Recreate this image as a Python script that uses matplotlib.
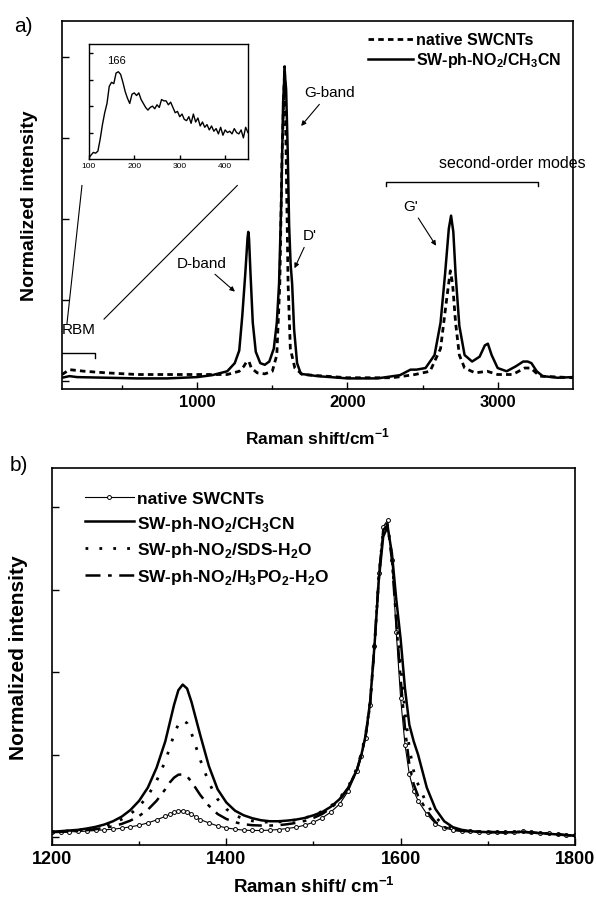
import numpy as np
import matplotlib
matplotlib.use('Agg')
import matplotlib.pyplot as plt
from matplotlib.ticker import MultipleLocator, FixedLocator, NullFormatter

plt.rcParams['font.family'] = ['Liberation Sans', 'DejaVu Sans']
plt.rcParams['mathtext.fontset'] = 'custom'
plt.rcParams['mathtext.rm'] = 'Liberation Sans'
plt.rcParams['mathtext.bf'] = 'Liberation Sans:bold'

# ---- panel a: full spectra ----
shift_a_solid = [100, 150, 200, 400, 600, 800, 1000, 1100, 1200, 1250, 1280, 1300, 1320, 1335,
                 1340, 1345, 1355, 1370, 1390, 1420, 1450, 1480, 1510, 1530, 1545, 1560, 1572,
                 1582, 1592, 1602, 1612, 1622, 1632, 1645, 1665, 1690, 1800, 2000, 2200, 2350,
                 2420, 2460, 2520, 2580, 2620, 2650, 2675, 2690, 2705, 2720, 2745, 2780, 2830,
                 2880, 2915, 2935, 2960, 3000, 3060, 3120, 3170, 3200, 3225, 3260, 3300, 3400, 3500]
int_a_solid = [0.010, 0.015, 0.012, 0.010, 0.008, 0.008, 0.012, 0.018, 0.030, 0.055, 0.094, 0.200,
               0.330, 0.440, 0.460, 0.440, 0.330, 0.180, 0.090, 0.055, 0.050, 0.060, 0.100, 0.180,
               0.300, 0.560, 0.860, 0.955, 0.900, 0.720, 0.480, 0.360, 0.300, 0.160, 0.055, 0.022,
               0.015, 0.008, 0.008, 0.018, 0.035, 0.035, 0.040, 0.080, 0.180, 0.330, 0.470, 0.510,
               0.460, 0.330, 0.170, 0.080, 0.060, 0.075, 0.110, 0.115, 0.080, 0.040, 0.030, 0.045,
               0.060, 0.060, 0.055, 0.030, 0.015, 0.010, 0.012]

shift_a_native = [100, 150, 250, 400, 600, 800, 1000, 1200, 1280, 1310, 1330, 1345, 1360, 1400,
                  1450, 1500, 1530, 1550, 1565, 1582, 1592, 1605, 1620, 1650, 1700, 2000, 2300,
                  2450, 2550, 2620, 2660, 2685, 2700, 2720, 2745, 2780, 2850, 2930, 3000, 3100,
                  3180, 3220, 3280, 3500]
int_a_native = [0.020, 0.035, 0.030, 0.025, 0.020, 0.020, 0.020, 0.020, 0.030, 0.045, 0.060, 0.060,
                0.040, 0.025, 0.022, 0.030, 0.080, 0.300, 0.700, 0.970, 0.700, 0.300, 0.100, 0.040,
                0.020, 0.010, 0.010, 0.020, 0.030, 0.100, 0.250, 0.340, 0.300, 0.180, 0.080, 0.040,
                0.025, 0.030, 0.020, 0.020, 0.040, 0.040, 0.015, 0.010]

# RBM inset
shift_rbm = np.arange(100, 455, 5)
int_rbm = [0.05, 0.15, 0.25, 0.22, 0.30, 0.75, 1.30, 1.75, 2.10, 2.75,
           2.90, 2.85, 3.25, 3.30, 3.20, 2.90, 2.55, 2.30, 2.10, 2.45,
           2.50, 2.40, 2.50, 2.25, 2.10, 1.95, 1.85, 1.95, 2.00, 1.90,
           2.05, 1.95, 2.25, 2.20, 2.20, 2.05, 2.15, 1.95, 1.75, 1.80,
           1.60, 1.70, 1.50, 1.45, 1.60, 1.35, 1.70, 1.40, 1.55, 1.25,
           1.40, 1.20, 1.30, 1.10, 1.25, 1.05, 1.15, 0.95, 1.20, 0.90,
           1.10, 1.00, 1.05, 0.95, 1.15, 1.00, 0.95, 1.10, 0.80, 1.20,
           1.00]

# ---- panel b: D and G region ----
shift_b = [1200, 1210, 1220, 1230, 1240, 1250, 1260, 1270, 1280, 1290, 1300, 1310, 1320, 1330,
           1335, 1340, 1345, 1350, 1355, 1360, 1365,
           1370, 1380, 1390, 1400, 1410, 1420, 1430, 1440, 1450, 1460, 1470, 1480, 1490, 1500,
           1510, 1520, 1530, 1540, 1550,
           1555, 1560, 1565, 1570, 1575, 1580, 1585, 1590, 1595, 1600, 1605, 1610, 1615, 1620,
           1630, 1640, 1650, 1660, 1670, 1680, 1690, 1700, 1710, 1720, 1730, 1740, 1750, 1760,
           1770, 1780, 1790, 1800]
int_b_native = [0.014, 0.015, 0.016, 0.017, 0.018, 0.020, 0.022, 0.024, 0.027, 0.031, 0.036, 0.043, 0.052, 0.063,
                0.069, 0.075, 0.079, 0.080, 0.077, 0.070, 0.061,
                0.053, 0.043, 0.034, 0.028, 0.024, 0.021, 0.020, 0.020, 0.021, 0.023, 0.026, 0.030, 0.036, 0.045,
                0.058, 0.076, 0.100, 0.140, 0.200,
                0.245, 0.300, 0.400, 0.580, 0.800, 0.940, 0.960, 0.840, 0.620, 0.420, 0.280, 0.190, 0.140, 0.110,
                0.070, 0.040, 0.028, 0.021, 0.018, 0.017, 0.016, 0.016, 0.016, 0.015, 0.016, 0.017, 0.015, 0.013,
                0.011, 0.009, 0.007, 0.005]
int_b_ch3cn = [0.016, 0.018, 0.020, 0.022, 0.026, 0.031, 0.038, 0.048, 0.062, 0.082, 0.110, 0.150, 0.210, 0.290,
               0.345, 0.400, 0.445, 0.462, 0.450, 0.410, 0.360,
               0.310, 0.215, 0.145, 0.105, 0.080, 0.066, 0.057, 0.051, 0.048, 0.048, 0.050, 0.053, 0.058, 0.066,
               0.076, 0.092, 0.115, 0.150, 0.205,
               0.250, 0.310, 0.410, 0.580, 0.780, 0.910, 0.940, 0.860, 0.720, 0.600, 0.450, 0.340, 0.290, 0.250,
               0.150, 0.085, 0.048, 0.030, 0.022, 0.018, 0.016, 0.015, 0.015, 0.014, 0.015, 0.016, 0.014, 0.012,
               0.010, 0.008, 0.006, 0.004]
int_b_sds = [0.015, 0.017, 0.019, 0.021, 0.024, 0.028, 0.034, 0.042, 0.054, 0.070, 0.093, 0.125, 0.170, 0.230,
             0.270, 0.310, 0.342, 0.355, 0.345, 0.315, 0.275,
             0.235, 0.165, 0.115, 0.085, 0.066, 0.055, 0.049, 0.046, 0.045, 0.046, 0.048, 0.052, 0.058, 0.066,
             0.078, 0.094, 0.118, 0.153, 0.210,
             0.255, 0.315, 0.405, 0.580, 0.790, 0.930, 0.950, 0.850, 0.670, 0.520, 0.380, 0.270, 0.200, 0.160,
             0.100, 0.060, 0.035, 0.025, 0.020, 0.017, 0.016, 0.015, 0.015, 0.014, 0.015, 0.016, 0.014, 0.012,
             0.010, 0.008, 0.006, 0.004]
int_b_h3po2 = [0.015, 0.016, 0.017, 0.019, 0.021, 0.024, 0.028, 0.033, 0.040, 0.050, 0.064, 0.083, 0.110, 0.145,
               0.165, 0.180, 0.189, 0.190, 0.184, 0.168, 0.148,
               0.128, 0.095, 0.070, 0.055, 0.045, 0.039, 0.036, 0.035, 0.035, 0.036, 0.039, 0.043, 0.049, 0.058,
               0.070, 0.088, 0.112, 0.148, 0.205,
               0.250, 0.310, 0.400, 0.580, 0.790, 0.930, 0.945, 0.840, 0.650, 0.480, 0.330, 0.220, 0.160, 0.125,
               0.080, 0.045, 0.030, 0.022, 0.019, 0.017, 0.016, 0.015, 0.015, 0.014, 0.015, 0.016, 0.014, 0.012,
               0.010, 0.008, 0.006, 0.004]

lbl_native = 'native SWCNTs'
lbl_ch3cn = r'SW-ph-NO$_\mathbf{2}$/CH$_\mathbf{3}$CN'
lbl_sds = r'SW-ph-NO$_\mathbf{2}$/SDS-H$_\mathbf{2}$O'
lbl_h3po2 = r'SW-ph-NO$_\mathbf{2}$/H$_\mathbf{3}$PO$_\mathbf{2}$-H$_\mathbf{2}$O'


def style_axes(ax, lw=1.2):
    for s in ax.spines.values():
        s.set_linewidth(lw)
    ax.tick_params(which='both', direction='in', top=False, right=False)
    ax.tick_params(which='major', length=5, width=1)
    ax.tick_params(which='minor', length=3, width=1)


fig = plt.figure(figsize=(5.96, 9.03), dpi=100)

# panel a
ax1 = fig.add_axes([0.104, 0.568, 0.857, 0.4075])
ax1.plot(shift_a_native, int_a_native, color='black', lw=2, ls=(0, (2, 1.5)), label=lbl_native)
ax1.plot(shift_a_solid, int_a_solid, color='black', lw=1.8, label=lbl_ch3cn)
ax1.set_xlim(100, 3500)
ax1.set_ylim(-0.025, 1.11)
ax1.xaxis.set_major_locator(FixedLocator([1000, 2000, 3000]))
ax1.xaxis.set_minor_locator(FixedLocator([500, 1500, 2500]))
ax1.yaxis.set_major_locator(MultipleLocator(0.25))
ax1.yaxis.set_major_formatter(NullFormatter())
style_axes(ax1)
for t in ax1.get_xticklabels():
    t.set_fontweight('bold')
    t.set_fontsize(12)
ax1.set_xlabel(r'Raman shift/cm$^{\mathbf{-1}}$', fontsize=12.5, fontweight='bold', labelpad=12)
ax1.set_ylabel('Normalized intensity', fontsize=14, fontweight='bold', labelpad=14)
ax1.legend(loc='upper right', frameon=False, handlelength=2.8, handletextpad=0.2,
           labelspacing=0.2, borderaxespad=0.3, prop={'weight': 'bold', 'size': 11.5})

arr = dict(arrowstyle='-|>', color='black', lw=0.8, mutation_scale=7)
ax1.annotate('D-band', xy=(1265, 0.27), xytext=(1030, 0.365), fontsize=11,
             ha='center', va='center', arrowprops=arr)
ax1.annotate('G-band', xy=(1680, 0.78), xytext=(1880, 0.89), fontsize=11,
             ha='center', va='center', arrowprops=arr)
ax1.annotate("D'", xy=(1640, 0.34), xytext=(1750, 0.45), fontsize=11,
             ha='center', va='center', arrowprops=arr)
ax1.annotate("G'", xy=(2600, 0.41), xytext=(2420, 0.54), fontsize=11,
             ha='center', va='center', arrowprops=arr)
ax1.text(3100, 0.675, 'second-order modes', fontsize=11.5, ha='center', va='center')
ax1.plot([2260, 2260, 3270, 3270], [0.60, 0.615, 0.615, 0.60], color='black', lw=1)
ax1.text(100, 0.16, 'RBM', fontsize=11, ha='left', va='center')
ax1.plot([100, 320, 320], [0.087, 0.087, 0.072], color='black', lw=1)
ax1.plot([233, 133], [0.603, 0.176], color='black', lw=0.8)
ax1.plot([1267, 380], [0.603, 0.191], color='black', lw=0.8)
fig.text(0.04, 0.971, 'a)', fontsize=15, ha='center', va='center')

# inset
axin = fig.add_axes([0.149, 0.8228, 0.267, 0.1274])
axin.plot(shift_rbm, int_rbm, color='black', lw=1)
axin.set_xlim(100, 450)
axin.set_ylim(0, 4.35)
axin.xaxis.set_major_locator(FixedLocator([100, 200, 300, 400]))
axin.yaxis.set_major_locator(FixedLocator([1, 2, 3, 4]))
axin.yaxis.set_major_formatter(NullFormatter())
style_axes(axin, lw=1)
axin.tick_params(which='major', length=3, labelsize=6, pad=2)
axin.text(161, 3.75, '166', fontsize=8, ha='center', va='center')

# panel b
ax2 = fig.add_axes([0.0872, 0.0631, 0.8775, 0.4175])
ax2.plot(shift_b, int_b_native, color='black', lw=0.8, marker='o', ms=2.8, mfc='white',
         mew=0.7, label=lbl_native)
ax2.plot(shift_b, int_b_ch3cn, color='black', lw=1.8, label=lbl_ch3cn)
ax2.plot(shift_b, int_b_sds, color='black', lw=2, ls=(0, (1, 4)), label=lbl_sds)
ax2.plot(shift_b, int_b_h3po2, color='black', lw=1.8, ls=(0, (6, 3, 1.5, 3)), label=lbl_h3po2)
ax2.set_xlim(1200, 1800)
ax2.set_ylim(-0.024, 1.118)
ax2.xaxis.set_major_locator(MultipleLocator(200))
ax2.xaxis.set_minor_locator(MultipleLocator(100))
ax2.yaxis.set_major_locator(MultipleLocator(0.25))
ax2.yaxis.set_major_formatter(NullFormatter())
style_axes(ax2)
for t in ax2.get_xticklabels():
    t.set_fontweight('bold')
    t.set_fontsize(13)
ax2.set_xlabel(r'Raman shift/ cm$^{\mathbf{-1}}$', fontsize=13.5, fontweight='bold', labelpad=6)
ax2.set_ylabel('Normalized intensity', fontsize=15, fontweight='bold', labelpad=14)
ax2.legend(loc='upper left', frameon=False, handlelength=2.8, handletextpad=0.2, numpoints=1,
           labelspacing=0.45, borderaxespad=0.9, bbox_to_anchor=(0.02, 1.0),
           prop={'weight': 'bold', 'size': 12.5})
fig.text(0.032, 0.485, 'b)', fontsize=15, ha='center', va='center')

fig.savefig('out.png', dpi=100)
